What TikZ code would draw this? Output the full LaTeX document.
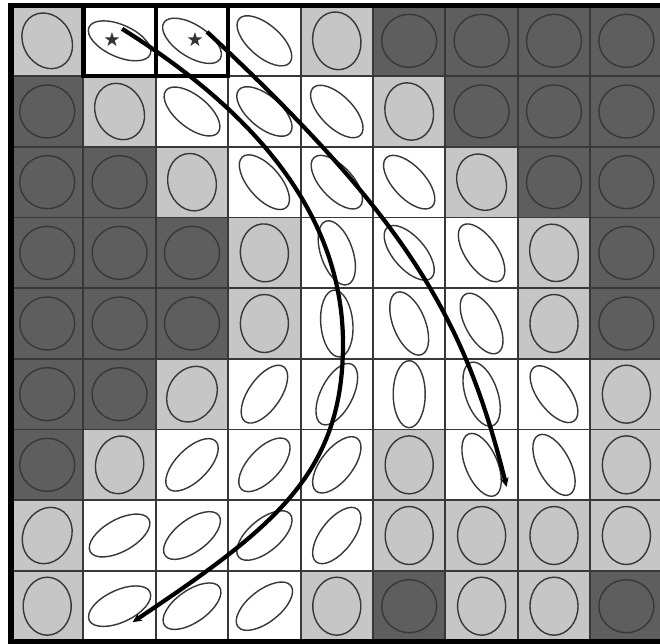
\documentclass[tikz,border=0pt]{standalone}
\usepackage{amssymb}
\usepackage{tikz}
\usetikzlibrary{arrows.meta}
\definecolor{darkcell}{HTML}{5E5E5E}
\definecolor{lightcell}{HTML}{C6C6C6}
\definecolor{rim}{HTML}{383838}

\begin{document}
\begin{tikzpicture}[x=0.025cm,y=0.025cm,>={Stealth[length=6.5pt,width=6pt]},
 cell/.style={draw=rim,line width=1.3pt,minimum width=1.81cm,minimum height=1.767cm,inner sep=0pt,outer sep=0pt},
 dk/.style={fill=darkcell,x radius=26.5,y radius=27.5},
 lt/.style={fill=lightcell,x radius=29,y radius=24},
 wt/.style={fill=white,x radius=33.5,y radius=16},
 oval/.style={draw=rim,line width=1pt},
 chosen/.style={draw=black,line width=3.2pt},
 gridframe/.style={draw=black,line width=3.6pt},
 track/.style={draw=black,line width=3pt},
 starsign/.style={font=\large,text=black!80,inner sep=0pt}]
\useasboundingbox (0,0) rectangle (660,644);
\clip (0,0) rectangle (660,644);
% 9x9 cells: type/angle of the oval
\foreach \row [count=\r] in {
 {lt/-60,wt/-24,wt/-33,wt/-41,lt/-80,dk/90,dk/90,dk/90,dk/90},
 {dk/90,lt/-65,wt/-39,wt/-40,wt/-45,lt/-75,dk/90,dk/90,dk/90},
 {dk/90,dk/90,lt/-75,wt/-49,wt/-47,wt/-47,lt/-65,dk/90,dk/90},
 {dk/90,dk/90,dk/90,lt/-85,wt/-71,wt/-49,wt/-55,lt/-75,dk/90},
 {dk/90,dk/90,dk/90,lt/90,wt/-85,wt/-68,wt/-61,lt/90,dk/90},
 {dk/90,dk/90,lt/60,wt/55,wt/63,wt/90,wt/-71,wt/-53,lt/90},
 {dk/90,lt/80,wt/45,wt/47,wt/52,lt/90,wt/-67,wt/-62,lt/90},
 {lt/65,wt/29,wt/37,wt/40,wt/52,lt/90,lt/90,lt/90,lt/90},
 {lt/90,wt/25,wt/35,wt/38,lt/90,dk/90,lt/90,lt/90,dk/90}}
 \foreach \t/\a [count=\c] in \row {
  \node[cell,\t] (m\r-\c) at ({11+(\c-0.5)*72.4},{638.5-(\r-0.5)*70.67}) {};
  \draw[oval,\t,shift={(m\r-\c)},rotate=\a] (0,0) circle[];
 }
\draw[gridframe] (m9-9.south east) -- (m9-1.south west) -- (m1-1.north west) -- (m1-9.north east);
\draw[chosen] (m1-2.south west) rectangle (m1-3.north east);
\draw[chosen] (m1-2.north east) -- (m1-2.south east);
\node[starsign] (s1) at ([shift={(-7.5,1)}]m1-2) {$\bigstar$};
\node[starsign] (s2) at ([shift={(3,1)}]m1-3) {$\bigstar$};
\coordinate (k1) at (343,300);
\coordinate (e1) at ([shift={(13,-16)}]m9-2);
\coordinate (e2) at ([shift={(25,-22)}]m7-7);
\draw[track,->] ([shift={(10,11)}]s1.center) .. controls +(102,-64) and +(0,150) .. (k1)
  .. controls +(0,-130) and +(141,94.5) .. (e1);
\draw[track,->] ([shift={(12,8)}]s2.center) .. controls +(204,-190) and +(-41,165) .. (e2);
\end{tikzpicture}
\end{document}
